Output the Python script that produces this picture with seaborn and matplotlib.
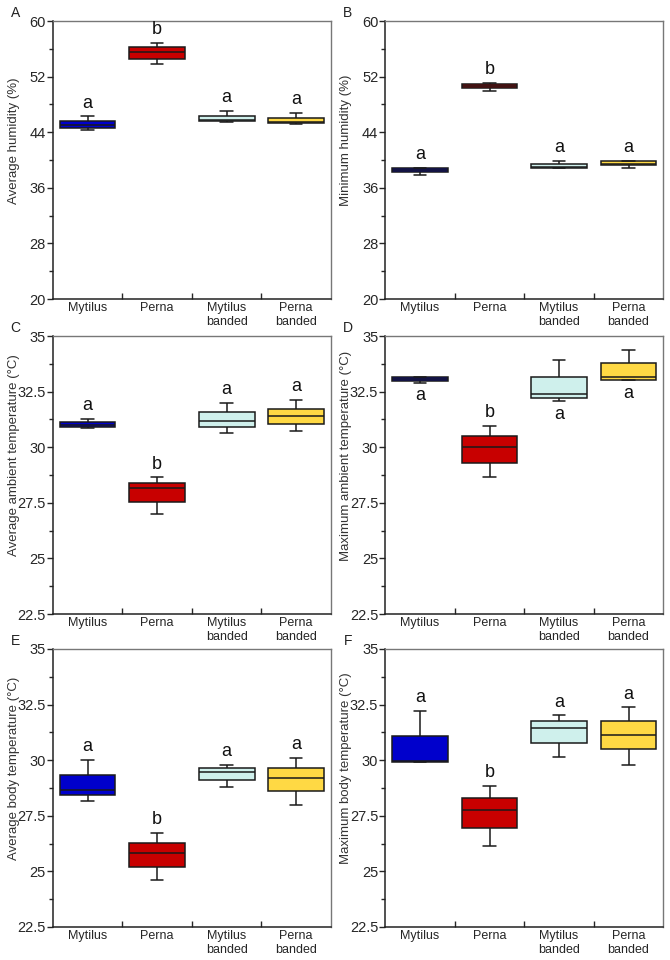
import matplotlib
matplotlib.use("Agg")
import matplotlib.pyplot as plt
from matplotlib.ticker import FixedLocator, FuncFormatter
import numpy as np
import pandas as pd
import seaborn as sns

sns.set_style("white")
plt.rcParams['font.family'] = ['Liberation Sans', 'DejaVu Sans']

groups = ["Mytilus", "Perna", "Mytilus\nbanded", "Perna\nbanded"]
colors = ["#0000CC", "#C80000", "#CFF0EC", "#FFD944"]

# per group: min, q1, median, q3, max
avg_humidity = [[44.3, 44.6, 45.1, 45.6, 46.3],
                [53.8, 54.6, 55.6, 56.2, 56.9],
                [45.4, 45.6, 45.7, 46.4, 47.05],
                [45.2, 45.3, 45.4, 46.1, 46.8]]
min_humidity = [[37.85, 38.3, 38.6, 38.9, 38.9],
                [50.0, 50.3, 50.6, 50.87, 51.06],
                [38.8, 38.8, 39.0, 39.4, 39.86],
                [38.85, 39.3, 39.5, 39.86, 39.86]]
avg_ambient = [[30.85, 30.91, 31.0, 31.12, 31.27],
               [26.99, 27.54, 28.16, 28.41, 28.64],
               [30.66, 30.91, 31.18, 31.59, 32.01],
               [30.72, 31.06, 31.39, 31.74, 32.13]]
max_ambient = [[32.9, 32.99, 33.05, 33.16, 33.16],
               [28.65, 29.31, 30.0, 30.49, 30.96],
               [32.08, 32.23, 32.38, 33.16, 33.92],
               [33.01, 33.04, 33.14, 33.77, 34.39]]
avg_body = [[28.15, 28.42, 28.66, 29.33, 30.0],
            [24.6, 25.2, 25.83, 26.29, 26.74],
            [28.78, 29.12, 29.48, 29.65, 29.78],
            [28.0, 28.6, 29.18, 29.65, 30.09]]
max_body = [[29.92, 29.92, 29.95, 31.1, 32.22],
            [26.13, 26.96, 27.78, 28.29, 28.84],
            [30.13, 30.78, 31.46, 31.77, 32.01],
            [29.77, 30.48, 31.14, 31.77, 32.37]]

letters_A = ["a", "b", "a", "a"]
letters_B = ["a", "b", "a", "a"]
letters_C = ["a", "b", "a", "a"]
letters_D = ["a", "b", "a", "a"]
letters_E = ["a", "b", "a", "a"]
letters_F = ["a", "b", "a", "a"]

panels = [
    ("A", avg_humidity, letters_A, "Average humidity (%)", (20, 60), 8, None),
    ("B", min_humidity, letters_B, "Minimum humidity (%)", (20, 60), 8, None),
    ("C", avg_ambient, letters_C, "Average ambient temperature (°C)", (22.5, 35), 2.5, None),
    ("D", max_ambient, letters_D, "Maximum ambient temperature (°C)", (22.5, 35), 2.5,
     ["below", "above", "below", "below"]),
    ("E", avg_body, letters_E, "Average body temperature (°C)", (22.5, 35), 2.5, None),
    ("F", max_body, letters_F, "Maximum body temperature (°C)", (22.5, 35), 2.5, None),
]

fig = plt.figure(figsize=(6.7, 9.6), dpi=100)
lefts = [0.079, 0.575]
bottoms = [0.6885, 0.3604, 0.0344]
w, h = 0.415, 0.2896

for k, (tag, vals, letters, ylab, ylim, step, where) in enumerate(panels):
    ax = fig.add_axes([lefts[k % 2], bottoms[k // 2], w, h])
    rows = []
    for g, v in zip(groups, vals):
        for x in v:
            rows.append({"group": g, "value": x})
    df = pd.DataFrame(rows)
    sns.boxplot(data=df, x="group", y="value", hue="group", order=groups,
                hue_order=groups, palette=colors, saturation=1, whis=(0, 100),
                width=0.8, linecolor="#1a1a1a", linewidth=1.1, legend=False,
                capwidths=0.18, ax=ax)

    for i, v in enumerate(vals):
        pos = "above" if where is None else where[i]
        if pos == "above":
            ax.annotate(letters[i], xy=(i, max(v)), xytext=(0, 9.5),
                        textcoords="offset points", ha="center", va="center",
                        fontsize=13, color="#111111")
        else:
            ax.annotate(letters[i], xy=(i, min(v)), xytext=(0, -9.5),
                        textcoords="offset points", ha="center", va="center",
                        fontsize=13, color="#111111")

    ax.set_xlim(-0.5, 3.5)
    ax.set_ylim(*ylim)
    major = np.arange(ylim[0], ylim[1] + step / 10, step)
    minor = np.arange(ylim[0] + step / 2, ylim[1], step)
    ax.yaxis.set_major_locator(FixedLocator(major))
    ax.yaxis.set_minor_locator(FixedLocator(minor))
    ax.yaxis.set_major_formatter(FuncFormatter(lambda y, p: "{:g}".format(y)))
    ax.tick_params(axis="y", which="major", direction="out", length=4,
                   width=1, labelsize=10.5, pad=1, left=True)
    ax.tick_params(axis="y", which="minor", direction="out", length=3,
                   width=1, left=True)
    ax.set_xticks(range(4))
    ax.set_xticklabels(groups, fontsize=9, linespacing=1.2)
    ax.set_xticks([0.5, 1.5, 2.5], minor=True)
    ax.tick_params(axis="x", which="major", length=0, pad=2)
    ax.tick_params(axis="x", which="minor", direction="in", length=4,
                   width=1, bottom=True)
    ax.set_xlabel("")
    ax.set_ylabel(ylab, fontsize=9.5, color="#333333")
    ax.yaxis.set_label_coords(-0.12, 0.57)
    for side in ["left", "bottom"]:
        ax.spines[side].set_color("#222222")
        ax.spines[side].set_linewidth(1.1)
    for side in ["top", "right"]:
        ax.spines[side].set_color("#777777")
        ax.spines[side].set_linewidth(1.0)
    ax.text(-0.135, 1.03, tag, transform=ax.transAxes, fontsize=10,
            ha="center", va="center", color="#222222")

fig.savefig("out.png", dpi=100)
